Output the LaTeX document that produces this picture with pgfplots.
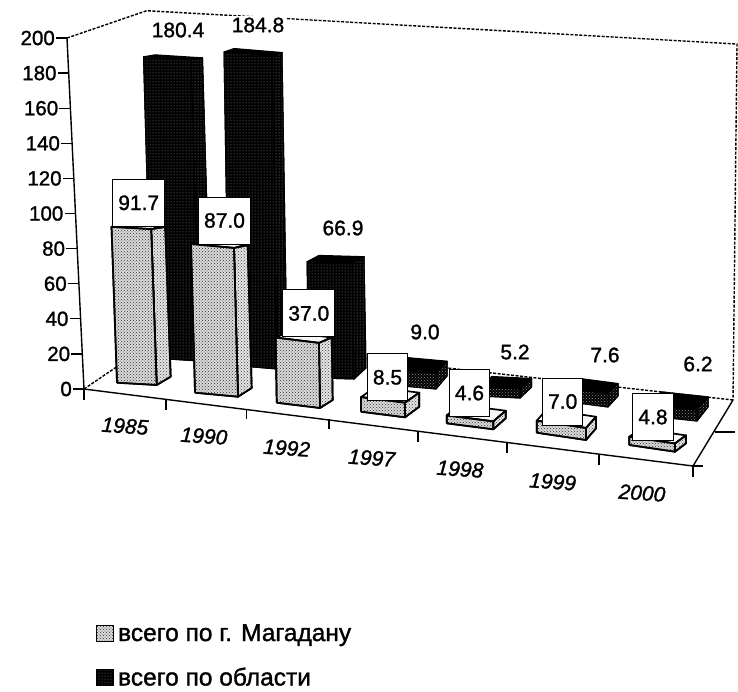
\documentclass[border=0pt]{standalone}
\usepackage{pgfplots}
\pgfplotsset{compat=1.18}
\usepackage{fontspec}
\setmainfont{Liberation Sans}[RawFeature={embolden=1.3}]
\usetikzlibrary{patterns}
% one 3-D bar seen in perspective: value v, pixels per unit s, floor corners, lean dx
\newcommand\drawbar[3]{%
 \pgfmathsetmacro\tly{\bly-\bs*\bv}%
 \pgfmathsetmacro\tmy{\bmy-\bs*\bv}%
 \pgfmathsetmacro\try{\bry-0.96*\bs*\bv}%
 \pgfmathsetmacro\tlx{\blx+\bdx}%
 \pgfmathsetmacro\tmx{\bmx+\bdx}%
 \pgfmathsetmacro\trx{\brx+\bdx}%
 \pgfmathsetmacro\tbx{\tlx+\trx-\tmx}%
 \pgfmathsetmacro\tby{\tly+\try-\tmy}%
 \addplot[#3] coordinates {(\tlx,\tly) (\tmx,\tmy) (\trx,\try) (\tbx,\tby) (\tlx,\tly)};
 \addplot[#2] coordinates {(\bmx,\bmy) (\brx,\bry) (\trx,\try) (\tmx,\tmy) (\bmx,\bmy)};
 \addplot[#1] coordinates {(\blx,\bly) (\bmx,\bmy) (\tmx,\tmy) (\tlx,\tly) (\blx,\bly)};
}
\newcommand\frontbar[9]{\def\bv{#1}\def\bs{#2}\def\blx{#3}\def\bly{#4}\def\bmx{#5}\def\bmy{#6}\def\brx{#7}\def\bry{#8}\def\bdx{#9}\drawbar{ffront}{fside}{ftop}}
\newcommand\backbar[9]{\def\bv{#1}\def\bs{#2}\def\blx{#3}\def\bly{#4}\def\bmx{#5}\def\bmy{#6}\def\brx{#7}\def\bry{#8}\def\bdx{#9}\drawbar{bfront}{bside}{btop}}
\newcommand\smallbar[9]{\def\bv{#1}\def\bs{#2}\def\blx{#3}\def\bly{#4}\def\bmx{#5}\def\bmy{#6}\def\brx{#7}\def\bry{#8}\def\bdx{#9}\drawbar{sfront}{sfront}{btop}}
\pgfplotsset{
 ffront/.style={draw=black,line width=1.7pt,line join=round,fill=black!15,postaction={pattern=crosshatch dots,pattern color=black!80}},
 fside/.style={draw=black,line width=1.7pt,line join=round,fill=black!10,postaction={pattern=crosshatch dots,pattern color=black!75}},
 ftop/.style={draw=black,line width=1.7pt,line join=round,fill=black!3},
 bfront/.style={draw=black,line width=1pt,line join=round,fill=black,postaction={pattern=dots,pattern color=black!45}},
 bside/.style={draw=black,line width=1pt,line join=round,fill=black,postaction={pattern=dots,pattern color=black!35}},
 btop/.style={draw=black,line width=1pt,line join=round,fill=black},
 sfront/.style={draw=black,line width=1pt,line join=round,fill=black,postaction={pattern=crosshatch dots,pattern color=black!45}},
 dashedline/.style={black,line width=1.4pt,dash pattern=on 3pt off 1.5pt},
 solidline/.style={black,line width=1.4pt},
 lab/.style={only marks,mark=none,point meta=explicit symbolic,nodes near coords,
   every node near coord/.append style={anchor=center,font=\fontsize{21}{23}\selectfont,#1}},
}
\pgfplotstableread{
px py label
178 30 180.4
258 25 184.8
343 228 66.9
425 332 9.0
515 352 5.2
605 355 7.6
698 364 6.2
}\backlabels
\pgfplotstableread{
px py label
138.7 202.8 91.7
224.5 220.5 87.0
308.8 313.4 37.0
387.5 377.3 8.5
469.5 393 4.6
562.7 401.5 7.0
653 417 4.8
}\frontlabels
\pgfplotstableread{
px py label
125 426 1985
204 436 1990
286.7 448 1992
371.7 458 1997
460 469 1998
552.7 481.7 1999
642 493 2000
}\yearlabels
\begin{document}
\begin{tikzpicture}[x=1pt,y=1pt]
\path[use as bounding box] (0,0) rectangle (738,-691);
% value axis, leaning like the reference's wall edge
\begin{axis}[
 at={(84pt,-389pt)},anchor=origin,
 x={(1pt,0pt)},y={(-0.085pt,1.755pt)},
 xmin=0,xmax=1,ymin=0,ymax=200,
 axis y line*=left,axis x line=none,
 ytick={0,20,...,200},
 tick align=outside,
 major tick length=11pt,
 tick style={black,line width=1.3pt},
 y axis line style={black,line width=1.4pt},
 y tick label style={font=\fontsize{20.5}{22}\selectfont,/pgf/number format/assume math mode=true,inner sep=1pt},
 clip=false,
]
\end{axis}
% everything else, in the reference's pixel coordinates
\begin{axis}[
 at={(0pt,0pt)},anchor=origin,
 x={(1pt,0pt)},y={(0pt,-1pt)},
 xmin=0,xmax=738,ymin=0,ymax=691,
 hide axis,clip=false,
 legend style={at={(0.130,0.097)},anchor=north west,draw=none,fill=none,
   font=\fontsize{24.5}{26}\selectfont,row sep=25pt,inner sep=0pt,column sep=4pt,
   nodes={inner sep=0pt,anchor=west}},
 legend cell align=left,
 legend image code/.code={\path[#1] (0pt,-8pt) rectangle (17pt,8pt);},
]
\addlegendimage{ffront,line width=1pt}
\addlegendentry{всего по г. Магадану}
\addlegendimage{bfront,line width=1pt}
\addlegendentry{всего по области}
% walls and floor
\addplot[dashedline] coordinates {(67,38) (146.7,10.7) (737,44) (733,400)};
\addplot[dashedline] coordinates {(84,389) (162,336) (733,400)};
\addplot[solidline] coordinates {(84,389) (693,466) (733,400)};
\addplot[solidline] coordinates {(84,389) (84,400)};
\addplot[solidline] coordinates {(166,400) (166,410)};
\addplot[solidline] coordinates {(246.7,410) (246.7,419)};
\addplot[solidline] coordinates {(329,419.3) (329,429)};
\addplot[solidline] coordinates {(418,431.7) (418,441.7)};
\addplot[solidline] coordinates {(507,443) (507,453)};
\addplot[solidline] coordinates {(599,455) (599,465)};
\addplot[solidline] coordinates {(693,466) (693,477)};
\addplot[solidline] coordinates {(693,466) (703,466)};
\addplot[solidline] coordinates {(715,432) (735,432)};
% всего по области : value, scale, floor corners, lean
\smallbar{6.2}{1.72}{650}{416}{697}{421}{708}{407}{0}
\smallbar{7.6}{1.72}{570}{402}{608}{407}{618}{396}{0}
\smallbar{5.2}{1.72}{480}{396}{520}{398}{531.7}{387}{0}
\smallbar{9.0}{1.72}{392}{385}{436}{389}{447}{376}{0}
\backbar{66.9}{1.734}{309}{377.7}{354}{379}{366}{368}{-2}
\backbar{184.8}{1.694}{229}{365}{277}{369}{287}{353}{-5}
\backbar{180.4}{1.67}{152}{358}{199.5}{361}{211}{347}{-8.5}
% всего по г. Магадану
\frontbar{91.7}{1.70}{117}{382.7}{156.7}{385}{170.7}{376.7}{-5.5}
\frontbar{87.0}{1.71}{195}{392.7}{238}{396.7}{251.7}{388}{-4}
\frontbar{37.0}{1.76}{276.7}{402.7}{320}{408}{332.7}{400}{-1}
\frontbar{8.5}{1.72}{361}{411.7}{405}{417.3}{419.3}{406.7}{0}
\frontbar{4.6}{1.72}{446.7}{423.3}{493.3}{429.3}{505.7}{418.3}{0}
\frontbar{7.0}{1.72}{536.7}{432.7}{586}{440}{596}{428.3}{0}
\frontbar{4.8}{1.72}{629.3}{445}{675}{451.7}{686}{443.3}{0}
% labels
\addplot[lab={fill=white,inner xsep=3pt,inner ysep=2pt}] table[x=px,y=py,meta=label] {\backlabels};
\addplot[lab={fill=white,draw=black,line width=1pt,inner xsep=5.5pt,minimum height=47pt}] table[x=px,y=py,meta=label] {\frontlabels};
\addplot[lab={font=\fontsize{21}{23}\selectfont\itshape,rotate=-4}] table[x=px,y=py,meta=label] {\yearlabels};
\end{axis}
\end{tikzpicture}
\end{document}
